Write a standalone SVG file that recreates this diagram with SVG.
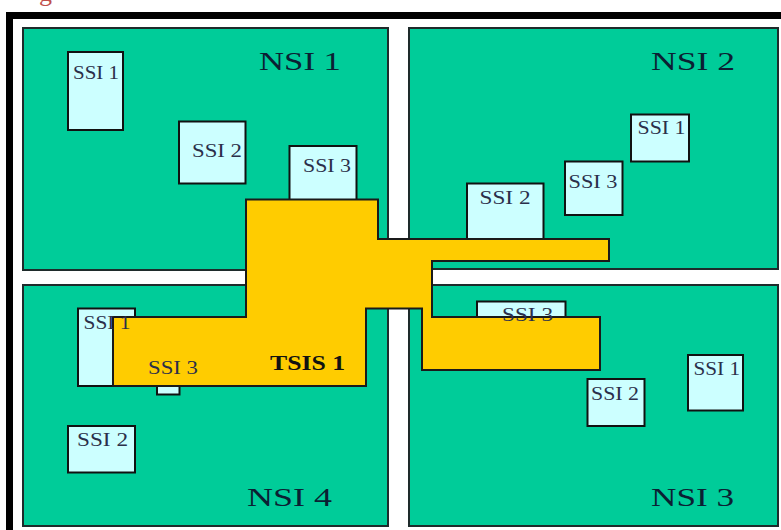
<svg xmlns="http://www.w3.org/2000/svg" width="781" height="530" viewBox="0 0 781 530">
<style>
  .nsi { fill: #00CC99; stroke: #1e2b2b; stroke-width: 2; }
  .ssi { fill: #CCFFFF; stroke: #111; stroke-width: 2; }
  .tsis { fill: #FFCC00; stroke: #1a1a1a; stroke-width: 2; stroke-linejoin: miter; }
  .nsiLabel { font-family: "Liberation Serif", "Times New Roman", serif; font-size: 26px; fill: #0b1f33; }
  .ssiLabel { font-family: "Liberation Serif", "Times New Roman", serif; font-size: 18px; fill: #2b2f4a; }
  .tsisLabel { font-family: "Liberation Serif", "Times New Roman", serif; font-size: 20px; font-weight: bold; fill: #111; }
</style>
<rect x="0" y="0" width="781" height="530" fill="#ffffff"/>
<text x="39" y="0.5" font-family="Liberation Serif, serif" font-size="26" fill="#c0504d">g</text>
<rect x="9.5" y="15.5" width="800" height="530" fill="#ffffff" stroke="#000" stroke-width="7"/>

<g id="nsi1">
  <rect class="nsi" x="23" y="28" width="365" height="242"/>
  <text class="nsiLabel" x="259" y="70" textLength="82" lengthAdjust="spacingAndGlyphs">NSI 1</text>
</g>
<g id="nsi2">
  <rect class="nsi" x="409" y="28" width="369" height="241"/>
  <text class="nsiLabel" x="651" y="70" textLength="84" lengthAdjust="spacingAndGlyphs">NSI 2</text>
</g>
<g id="nsi4">
  <rect class="nsi" x="23" y="285" width="365" height="241"/>
  <text class="nsiLabel" x="247" y="506" textLength="85" lengthAdjust="spacingAndGlyphs">NSI 4</text>
</g>
<g id="nsi3">
  <rect class="nsi" x="409" y="285" width="369" height="241"/>
  <text class="nsiLabel" x="651" y="506" textLength="83" lengthAdjust="spacingAndGlyphs">NSI 3</text>
</g>

<g id="nsi1-ssi1">
  <rect class="ssi" x="68" y="52" width="55" height="78"/>
  <text class="ssiLabel" x="73" y="79" textLength="46" lengthAdjust="spacingAndGlyphs">SSI 1</text>
</g>
<g id="nsi1-ssi2">
  <rect class="ssi" x="179" y="121.5" width="66.5" height="62"/>
  <text class="ssiLabel" x="192" y="157" textLength="50" lengthAdjust="spacingAndGlyphs">SSI 2</text>
</g>
<g id="nsi1-ssi3">
  <rect class="ssi" x="289.5" y="146" width="67" height="60"/>
  <text class="ssiLabel" x="303" y="172" textLength="48" lengthAdjust="spacingAndGlyphs">SSI 3</text>
</g>

<g id="nsi2-ssi1">
  <rect class="ssi" x="631" y="114.5" width="58" height="47"/>
  <text class="ssiLabel" x="637.5" y="134" textLength="48" lengthAdjust="spacingAndGlyphs">SSI 1</text>
</g>
<g id="nsi2-ssi3">
  <rect class="ssi" x="565" y="161.5" width="57.5" height="53.5"/>
  <text class="ssiLabel" x="568.5" y="188" textLength="49" lengthAdjust="spacingAndGlyphs">SSI 3</text>
</g>
<g id="nsi2-ssi2">
  <rect class="ssi" x="467" y="183.5" width="76.5" height="62"/>
  <text class="ssiLabel" x="479.5" y="203.5" textLength="51" lengthAdjust="spacingAndGlyphs">SSI 2</text>
</g>

<g id="nsi4-ssi1">
  <rect class="ssi" x="78" y="308.5" width="57" height="77.5"/>
</g>
<g id="nsi4-ssi3">
  <rect class="ssi" x="157" y="370" width="22.5" height="24.5"/>
</g>
<g id="nsi4-ssi2">
  <rect class="ssi" x="68" y="426" width="67" height="46.5"/>
  <text class="ssiLabel" x="77" y="446" textLength="51" lengthAdjust="spacingAndGlyphs">SSI 2</text>
</g>

<g id="nsi3-ssi3">
  <rect class="ssi" x="477" y="301.5" width="88.5" height="25"/>
</g>
<g id="nsi3-ssi2">
  <rect class="ssi" x="587.5" y="379" width="57" height="47"/>
  <text class="ssiLabel" x="591" y="399.5" textLength="48" lengthAdjust="spacingAndGlyphs">SSI 2</text>
</g>
<g id="nsi3-ssi1">
  <rect class="ssi" x="688" y="355" width="55" height="55.5"/>
  <text class="ssiLabel" x="693.5" y="375" textLength="46.5" lengthAdjust="spacingAndGlyphs">SSI 1</text>
</g>

<g id="tsis1">
  <polygon class="tsis" points="246,199.5 378,199.5 378,239 609,239 609,261 432,261 432,317 600,317 600,370 422,370 422,308.5 366,308.5 366,386 113,386 113,317 246,317"/>
  <text class="tsisLabel" x="270" y="369.5" textLength="75" lengthAdjust="spacingAndGlyphs">TSIS 1</text>
</g>

<g id="labels-over">
  <text class="ssiLabel" x="83.5" y="328.5" textLength="47" lengthAdjust="spacingAndGlyphs">SSI 1</text>
  <text class="ssiLabel" x="148" y="374" textLength="50" lengthAdjust="spacingAndGlyphs">SSI 3</text>
  <text class="ssiLabel" x="502" y="321" textLength="51" lengthAdjust="spacingAndGlyphs">SSI 3</text>
</g>

<g id="connectors"></g>
</svg>
